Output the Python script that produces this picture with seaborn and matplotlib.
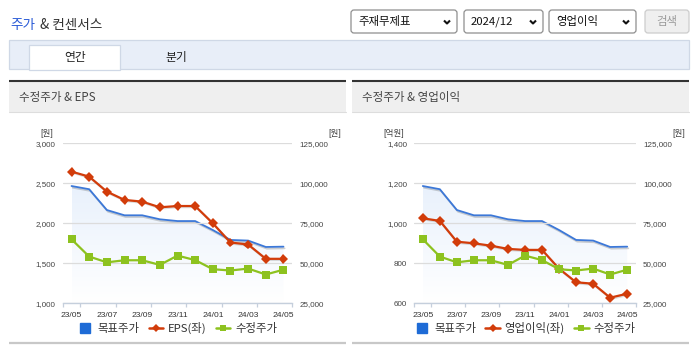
import numpy as np
import pandas as pd
import matplotlib
matplotlib.use("Agg")
import matplotlib.pyplot as plt
import seaborn as sns
from matplotlib.patches import Rectangle, FancyBboxPatch
from matplotlib.lines import Line2D
import matplotlib.patheffects as pe

# ---------------- data ----------------
months = ['23/05', '23/06', '23/07', '23/08', '23/09', '23/10', '23/11',
          '23/12', '24/01', '24/02', '24/03', '24/04', '24/05']
target_price = [98300, 96300, 83300, 80000, 80000, 77500, 76400,
                76400, 70800, 64600, 64200, 60200, 60400]
adj_price = [65000, 54200, 50600, 51900, 51900, 49000, 54800,
             52000, 46300, 45500, 46700, 43000, 46000]
eps = [2646, 2583, 2396, 2292, 2271, 2200, 2216,
       2216, 2000, 1760, 1735, 1556, 1556]
op_profit = [1025, 1012, 908, 900, 888, 872, 867,
             867, 773, 705, 698, 628, 648]
eps_ticks = [1000, 1500, 2000, 2500, 3000]
op_ticks = [600, 800, 1000, 1200, 1400]
price_ticks = [25000, 50000, 75000, 100000, 125000]

# ---------------- style ----------------
sns.set_theme(style="white")
plt.rcParams['font.family'] = ['Liberation Sans', 'Noto Sans CJK KR', 'DejaVu Sans']
KR = ['Noto Sans CJK KR', 'DejaVu Sans']

RED = '#d23c0a'
GREEN = '#8dc21f'
BLUE = '#3c78d8'
BLUE_SQ = '#1e6bd6'
TXT = '#444444'

W, H = 695, 349
fig = plt.figure(figsize=(W / 100, H / 100), dpi=100)

bg = fig.add_axes([0, 0, 1, 1])
bg.set_xlim(0, W)
bg.set_ylim(H, 0)
bg.axis('off')
bg.set_zorder(-5)

# ---------------- header ----------------
bg.text(10, 25, '주가', color='#2a5bd7', fontsize=9.8, family=KR, va='center', ha='left')
bg.text(40, 25, '& 컨센서스', color='#333333', fontsize=9.8, family=KR, va='center', ha='left')

boxes = [(351, 457, '주재무제표'), (464, 543, '2024/12'), (549, 636, '영업이익')]
for xa, xb, lab in boxes:
    bg.add_patch(FancyBboxPatch((xa, 10), xb - xa, 23,
                                boxstyle='round,pad=0,rounding_size=3',
                                facecolor='white', edgecolor='#8f8f8f', lw=0.9))
    bg.text(xa + 7, 22, lab, fontsize=8.2, family=KR, color='#111111', va='center', ha='left')
    cx = xb - 10
    bg.plot([cx - 3, cx, cx + 3], [20.5, 23.5, 20.5], color='#111111', lw=1.5,
            solid_capstyle='butt')
bg.add_patch(FancyBboxPatch((645, 10), 44, 23, boxstyle='round,pad=0,rounding_size=3',
                            facecolor='#efefef', edgecolor='#cccccc', lw=0.9))
bg.text(667, 22, '검색', fontsize=8.2, family=KR, color='#9a9a9a', va='center', ha='center')

# tab bar
bg.add_patch(Rectangle((9, 40), 680, 29, facecolor='#e8eef8', edgecolor='#cfd8e6', lw=0.9))
bg.add_patch(Rectangle((29, 45), 91, 24.5, facecolor='white', edgecolor='#cfd8e6', lw=0.9))
bg.text(75, 57.5, '연간', fontsize=8.5, family=KR, color='#222222', va='center', ha='center')
bg.text(176, 57.5, '분기', fontsize=8.5, family=KR, color='#222222', va='center', ha='center')

# panel headers
panels = [(9, 346, '수정주가 & EPS'), (352, 689, '수정주가 & 영업이익')]
for xa, xb, title in panels:
    bg.add_patch(Rectangle((xa, 82), xb - xa, 30, facecolor='#efefef', edgecolor='none'))
    bg.plot([xa, xb], [81, 81], color='#333333', lw=1.5, solid_capstyle='butt')
    bg.plot([xa, xb], [112.3, 112.3], color='#dddddd', lw=0.8)
    bg.plot([xa, xb], [343, 343], color='#c8c8c8', lw=1.6, solid_capstyle='butt')
    bg.text(xa + 10, 97.5, title, fontsize=8.3, family=KR, color=TXT, va='center', ha='left')


def px_rect(x0, y0, x1, y1):
    return [x0 / W, 1 - y1 / H, (x1 - x0) / W, (y1 - y0) / H]


def draw_chart(x0, x1, left_vals, left_ticks, left_name, left_unit, unit_lx, unit_rx):
    df = pd.DataFrame({'idx': np.arange(len(months)), 'month': months,
                       'target': target_price, 'adj': adj_price, 'val': left_vals})
    ax = fig.add_axes(px_rect(x0, 143.3, x1, 303.3))
    ax2 = ax.twinx()
    ax3 = ax.twinx()
    ax2.set_zorder(1)
    ax.set_zorder(2)
    ax3.set_zorder(3)
    for a in (ax, ax2, ax3):
        a.patch.set_visible(False)

    # --- right scale: target price with gradient area
    poly = ax2.fill_between(df['idx'], df['target'], price_ticks[0],
                            facecolor='none', edgecolor='none')
    n = 256
    rgba = np.zeros((n, 1, 4))
    rgba[..., 0] = 0.82
    rgba[..., 1] = 0.89
    rgba[..., 2] = 0.98
    rgba[..., 3] = np.linspace(0.5, 0.0, n).reshape(n, 1)
    im = ax2.imshow(rgba, extent=[df['idx'].min(), df['idx'].max(), price_ticks[0], 100000],
                    aspect='auto', origin='upper', zorder=0.5, interpolation='bilinear')
    im.set_clip_path(poly.get_paths()[0], ax2.transData)
    sns.lineplot(data=df, x='idx', y='target', ax=ax2, color=BLUE, lw=1.3, legend=False,
                 path_effects=[pe.SimpleLineShadow(offset=(0.8, -1.2), alpha=0.2),
                               pe.Normal()])
    ax2.set_ylim(price_ticks[0], price_ticks[-1])
    ax2.set_yticks(price_ticks)
    ax2.set_yticklabels([f'{v:,}' for v in price_ticks])
    ax2.tick_params(axis='y', length=0, pad=5.2, labelsize=5.8, labelcolor=TXT)
    ax2.set_ylabel('')
    for s in ax2.spines.values():
        s.set_visible(False)

    # --- left scale
    sns.lineplot(data=df, x='idx', y='val', ax=ax, color=RED, lw=1.6, marker='D',
                 markersize=5, markeredgewidth=0, legend=False,
                 path_effects=[pe.SimpleLineShadow(offset=(0.6, -0.8), alpha=0.15),
                               pe.Normal()])
    ax.set_xlim(-0.5, len(months) - 0.5)
    ax.set_ylim(left_ticks[0], left_ticks[-1])
    ax.set_yticks(left_ticks)
    ax.set_yticklabels([f'{v:,}' for v in left_ticks])
    ax.tick_params(axis='y', length=0, pad=5.3, labelsize=5.8, labelcolor=TXT)
    ax.set_xticks(df['idx'][::2])
    ax.set_xticklabels(df['month'][::2])
    ax.set_xticks([-0.5] + list(np.arange(0.5, len(months), 2)), minor=True)
    ax.tick_params(axis='x', which='major', length=0, pad=6.5, labelsize=6.1, labelcolor='#333333')
    ax.tick_params(axis='x', which='minor', length=3.2, width=0.9, color='#c5cfdc', bottom=True)
    ax.grid(axis='y', color='#dcdcdc', lw=0.9)
    ax.grid(axis='x', visible=False)
    ax.set_xlabel('')
    ax.set_ylabel('')
    for k, s in ax.spines.items():
        s.set_visible(k == 'bottom')
    ax.spines['bottom'].set_color('#c5cfdc')
    ax.spines['bottom'].set_linewidth(1.0)

    # --- right scale: adjusted price on top
    sns.lineplot(data=df, x='idx', y='adj', ax=ax3, color=GREEN, lw=1.6, marker='s',
                 markersize=6, markeredgewidth=0, legend=False)
    ax3.set_ylim(price_ticks[0], price_ticks[-1])
    ax3.axis('off')

    # units
    bg.text(unit_lx, 133, left_unit, fontsize=6.2, color=TXT, ha='center', va='center')
    bg.text(unit_rx, 133, '[원]', fontsize=6.2, color=TXT, ha='center', va='center')

    handles = [Line2D([], [], marker='s', color=BLUE_SQ, ls='none', markersize=7.2),
               Line2D([], [], color=RED, marker='D', markersize=4.2, lw=1.8, markeredgewidth=0),
               Line2D([], [], color=GREEN, marker='s', markersize=5, lw=1.8, markeredgewidth=0)]
    leg = ax3.legend(handles, ['목표주가', left_name, '수정주가'], loc='center',
                     bbox_to_anchor=(0.5, (303.3 - 328) / 160), ncol=3, frameon=False,
                     prop={'family': KR, 'size': 8.2}, handlelength=1.3,
                     handletextpad=0.4, columnspacing=0.8, borderaxespad=0)
    for t in leg.get_texts():
        t.set_color('#333333')


draw_chart(62.7, 292.3, eps, eps_ticks, 'EPS(좌)', '[원]', 47, 335)
draw_chart(414.3, 635.7, op_profit, op_ticks, '영업이익(좌)', '[억원]', 394, 679)

fig.savefig('out.png', dpi=100)
